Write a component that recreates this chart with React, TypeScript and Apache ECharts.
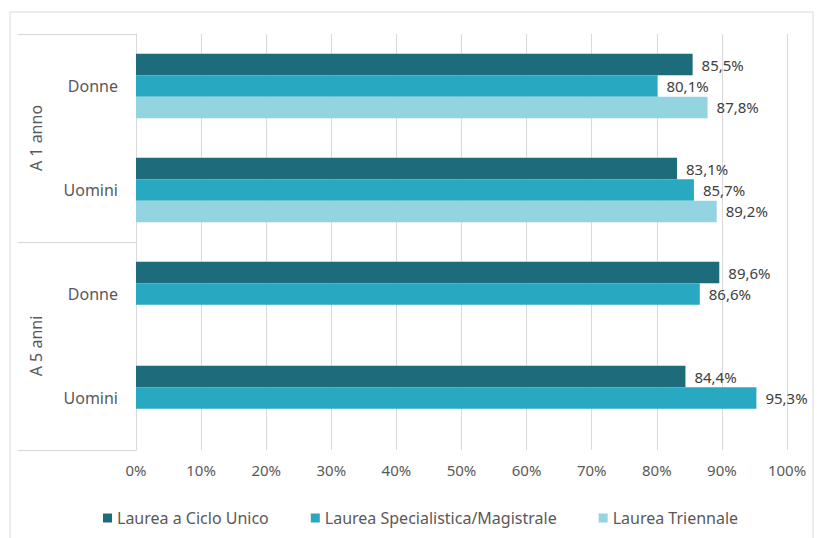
import React, { useEffect, useRef } from "react";
import * as echarts from "echarts";

const groups = ["A 1 anno", "A 5 anni"];
const categories = ["Donne", "Uomini", "Donne", "Uomini"];
const seriesNames = ["Laurea a Ciclo Unico", "Laurea Specialistica/Magistrale", "Laurea Triennale"];
const cicloUnico = [85.5, 83.1, 89.6, 84.4];
const specialistica = [80.1, 85.7, 86.6, 95.3];
const triennale: (number | null)[] = [87.8, 89.2, null, null];
const xTicks = [0, 10, 20, 30, 40, 50, 60, 70, 80, 90, 100];

const colors = ["#1D6C7C", "#28A9C1", "#93D4E1"];
const FONT = "Noto Sans";

export default function App() {
  const ref = useRef<HTMLDivElement>(null);
  useEffect(() => {
    if (!ref.current) return;
    const chart = echarts.init(ref.current, null, { renderer: "svg" });
    const catKeys = categories.map((c, i) => `${i}|${c}`);
    const fmt = (v: number) => v.toFixed(1).replace(".", ",") + "%";
    const allSeries = [cicloUnico, specialistica, triennale];
    chart.setOption({
      animation: false,
      backgroundColor: "#ffffff",
      textStyle: { fontFamily: FONT },
      graphic: [
        {
          type: "rect",
          shape: { x: 10, y: 12, width: 803, height: 540 },
          style: { fill: "none", stroke: "#d9d9d9", lineWidth: 1 },
          silent: true,
        },
      ],
      grid: { left: 136, right: 30, top: 34, bottom: 88, containLabel: false },
      legend: {
        data: seriesNames,
        left: 98,
        top: 505,
        itemWidth: 9,
        itemHeight: 9,
        itemGap: 42,
        itemStyle: { borderWidth: 0 },
        icon: "rect",
        textStyle: { fontFamily: FONT, fontSize: 16, color: "#595959" },
      },
      xAxis: {
        type: "value",
        min: 0,
        max: 100,
        interval: 10,
        axisLine: { show: false },
        axisTick: { show: false },
        splitLine: { lineStyle: { color: "#d9d9d9", width: 1 } },
        axisLabel: {
          margin: 12,
          fontFamily: FONT,
          fontSize: 15,
          color: "#595959",
          formatter: (v: number) => (xTicks.includes(v) ? `${v}%` : ""),
        },
      },
      yAxis: [
        {
          type: "category",
          inverse: true,
          data: catKeys,
          axisLine: { show: true, lineStyle: { color: "#d9d9d9" } },
          axisTick: { show: false },
          axisLabel: {
            margin: 18,
            fontFamily: FONT,
            fontSize: 16,
            color: "#595959",
            formatter: (v: string) => v.split("|")[1],
          },
        },
        {
          type: "category",
          inverse: true,
          position: "left",
          data: groups,
          axisLine: { show: false },
          axisTick: { show: true, length: 118, lineStyle: { color: "#d9d9d9" } },
          axisLabel: {
            rotate: 90,
            margin: 92,
            fontFamily: FONT,
            fontSize: 16,
            color: "#595959",
          },
        },
      ],
      series: allSeries.map((d, i) => ({
        name: seriesNames[i],
        type: "bar",
        yAxisIndex: 0,
        data: d,
        barGap: "0%",
        barCategoryGap: "38%",
        itemStyle: { color: colors[i] },
        label: {
          show: true,
          position: "right",
          distance: 9,
          fontFamily: FONT,
          fontSize: 15,
          color: "#404040",
          formatter: (p: any) => (p.value == null ? "" : fmt(p.value)),
        },
      })),
    });
    return () => chart.dispose();
  }, []);
  return (
    <div
      ref={ref}
      style={{ position: "fixed", left: 0, top: 0, width: 817, height: 538 }}
    />
  );
}
